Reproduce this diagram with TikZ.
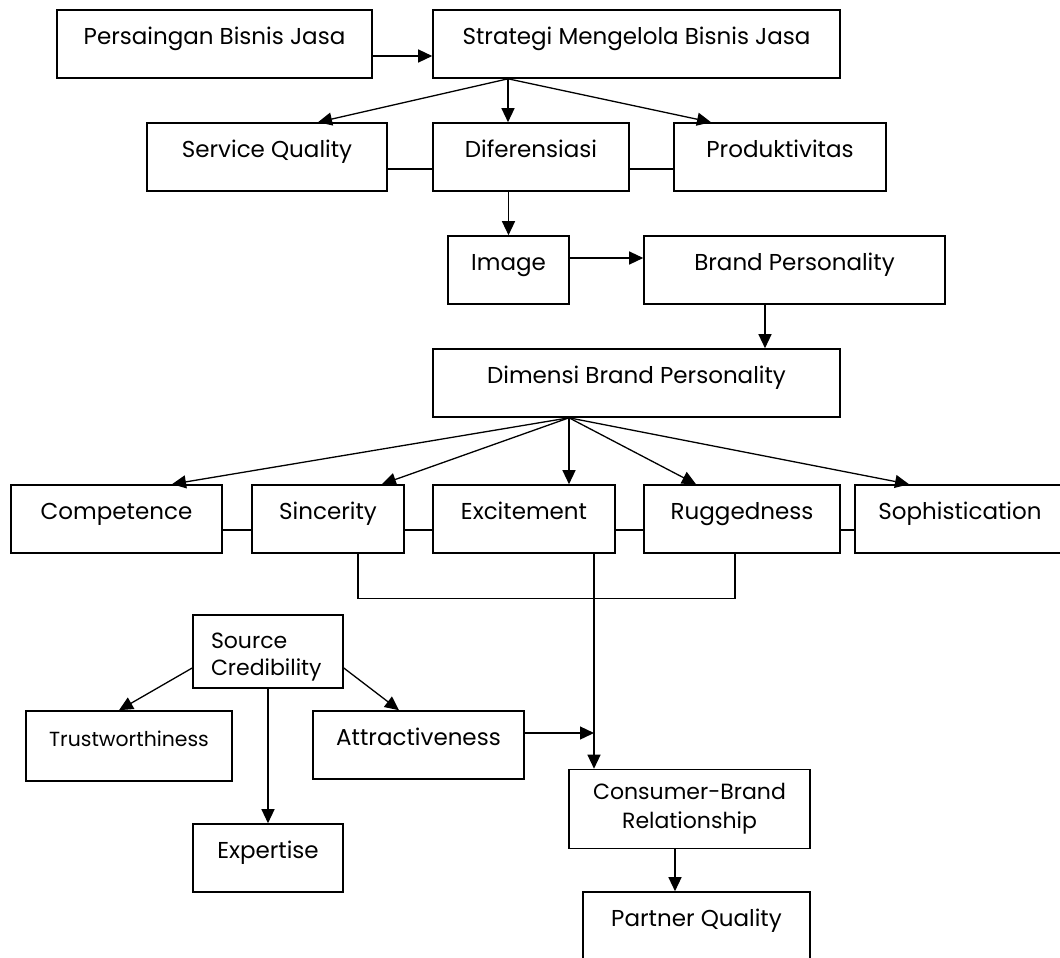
\documentclass[tikz,border=0pt]{standalone}
\usepackage{fontspec}
\setmainfont{Poppins}
\usetikzlibrary{arrows.meta}

\tikzset{
  box/.style={draw, line width=0.8pt, inner sep=0pt, minimum height=34pt},
  oneline/.style={box, text height=8pt, text depth=8pt, font=\fontsize{11.5}{13}\selectfont},
  link/.style={line width=0.65pt},
  arr/.style={link, -{Triangle[length=7pt,width=6.5pt]}}
}

\begin{document}
\begin{tikzpicture}[x=0.5pt,y=-0.5pt]
\useasboundingbox (0,0) rectangle (1060,958);
\node[oneline, minimum width=157.5pt] (pers) at (214.5,44) {Persaingan Bisnis Jasa};
\node[oneline, minimum width=203.5pt] (strat) at (636.5,44) {Strategi Mengelola Bisnis Jasa};
\node[oneline, minimum width=120pt] (serv) at (267,157) {Service Quality};
\node[oneline, minimum width=98pt] (dif) at (531,157) {Diferensiasi};
\node[oneline, minimum width=106pt] (prod) at (780,157) {Produktivitas};
\node[oneline, minimum width=60.5pt] (img) at (508.5,270) {Image};
\node[oneline, minimum width=150.5pt] (bp) at (794.5,270) {Brand Personality};
\node[oneline, minimum width=203.5pt] (dim) at (636.5,383) {Dimensi Brand Personality};
\node[oneline, minimum width=105.5pt] (comp) at (116.5,519) {Competence};
\node[oneline, minimum width=76pt] (sinc) at (328,519) {Sincerity};
\node[oneline, minimum width=91pt] (exc) at (524,519) {Excitement};
\node[oneline, minimum width=98pt] (rug) at (742,519) {Ruggedness};
\node[oneline, minimum width=105pt] (soph) at (960,519) {Sophistication};
\node[box, minimum width=75pt, minimum height=36.5pt, align=left, text width=57pt,
  text height=8pt, text depth=11.5pt,
  font=\fontsize{11}{13.5}\selectfont] (src) at (268,651.5) {Source\\Credibility};
\node[oneline, minimum width=103pt, minimum height=35pt, font=\fontsize{10.2}{12}\selectfont] (trust) at (129,746) {Trustworthiness};
\node[oneline, minimum width=105.5pt] (attr) at (418.5,745) {Attractiveness};
\node[oneline, minimum width=75pt] (exp) at (268,858) {Expertise};
\node[box, minimum width=120.5pt, minimum height=39.5pt, align=center,
  font=\fontsize{11}{14.5}\selectfont] (cb) at (689.5,809) {Consumer-Brand\\Relationship};
\node[oneline, minimum width=113.5pt] (pq) at (696.5,926) {Partner Quality};

\draw[arr] ([yshift=-6pt]pers.east) -- ([yshift=-6pt]strat.west);
\coordinate (stratfoot) at ([xshift=-64.25pt]strat.south);
\draw[arr] (stratfoot) -- ([xshift=25.5pt]serv.north);
\draw[arr] (stratfoot) -- ([xshift=-11.5pt]dif.north);
\draw[arr] (stratfoot) -- ([xshift=-34.5pt]prod.north);
\draw[link] ([yshift=-6pt]serv.east) -- ([yshift=-6pt]dif.west);
\draw[link] ([yshift=-6pt]dif.east) -- ([yshift=-6pt]prod.west);
\draw[arr] (img.north |- dif.south) -- (img.north);
\draw[arr] ([yshift=6pt]img.east) -- ([yshift=6pt]bp.west);
\draw[arr] ([xshift=-14.75pt]bp.south) -- ([xshift=-14.75pt]bp.south |- dim.north);

\coordinate (dimfoot) at ([xshift=-33.75pt]dim.south);
\draw[arr] (dimfoot) -- ([xshift=27.75pt]comp.north);
\draw[arr] (dimfoot) -- ([xshift=27pt]sinc.north);
\draw[arr] (dimfoot) -- ([xshift=22.5pt]exc.north);
\draw[arr] (dimfoot) -- ([xshift=-23pt]rug.north);
\draw[arr] (dimfoot) -- ([xshift=-25.5pt]soph.north);
\draw[link] ([yshift=-5.5pt]comp.east) -- ([yshift=-5.5pt]sinc.west);
\draw[link] ([yshift=-5.5pt]sinc.east) -- ([yshift=-5.5pt]exc.west);
\draw[link] ([yshift=-5.5pt]exc.east) -- ([yshift=-5.5pt]rug.west);
\draw[link] ([yshift=-5.5pt]rug.east) -- ([yshift=-5.5pt]soph.west);
\draw[link] ([xshift=15pt]sinc.south) |- ([xshift=-3.5pt,yshift=-22.5pt]rug.south) -- ([xshift=-3.5pt]rug.south);
\draw[arr] ([xshift=35pt]exc.south) -- ([xshift=35pt]exc.south |- cb.north);
\coordinate (join) at ([xshift=35pt]exc.south |- attr.east);

\draw[arr] ([yshift=-8.25pt]src.west) -- ([xshift=-5pt]trust.north);
\draw[arr] ([yshift=-8.25pt]src.east) -- ([xshift=-9.75pt]attr.north);
\draw[arr] (src.south) -- (exp.north);
\draw[arr] ([yshift=6pt]attr.east) -- ([yshift=6pt]join);
\draw[arr] ([xshift=-7.25pt]cb.south) -- ([xshift=-7.25pt]cb.south |- pq.north);
\end{tikzpicture}
\end{document}
